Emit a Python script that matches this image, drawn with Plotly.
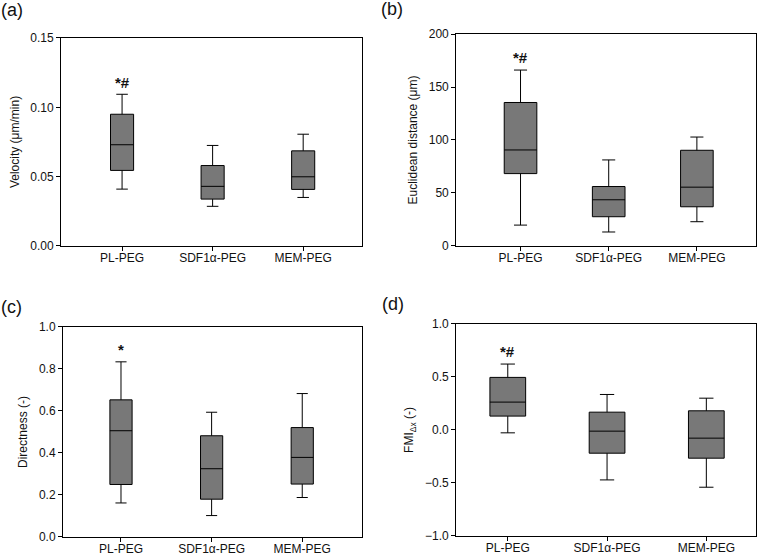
import plotly.graph_objects as go

categories = ["PL-PEG", "SDF1α-PEG", "MEM-PEG"]

# (a) Velocity
vel_low = [0.041, 0.0286, 0.035]
vel_q1 = [0.0545, 0.0338, 0.0408]
vel_med = [0.073, 0.043, 0.0499]
vel_q3 = [0.095, 0.058, 0.0686]
vel_high = [0.1094, 0.0725, 0.0806]

# (b) Euclidean distance
euc_low = [19.7, 13.2, 22.9]
euc_q1 = [68.3, 27.6, 37.0]
euc_med = [90.6, 43.6, 55.5]
euc_q3 = [135.4, 56.1, 90.3]
euc_high = [166.0, 81.2, 102.8]

# (c) Directness
dir_low = [0.162, 0.102, 0.188]
dir_q1 = [0.25, 0.18, 0.252]
dir_med = [0.506, 0.325, 0.379]
dir_q3 = [0.653, 0.482, 0.521]
dir_high = [0.834, 0.594, 0.683]

# (d) FMI
fmi_low = [-0.027, -0.471, -0.54]
fmi_q1 = [0.131, -0.219, -0.266]
fmi_med = [0.263, -0.011, -0.077]
fmi_q3 = [0.496, 0.168, 0.181]
fmi_high = [0.622, 0.335, 0.30]

sig_labels = ["*#", "*#", "*", "*#"]
sig_y = [0.118, 178, 0.895, 0.745]
panel_labels = ["(a)", "(b)", "(c)", "(d)"]
y_titles = ["Velocity (μm/min)", "Euclidean distance (μm)", "Directness (-)", "FMI<sub>Δx</sub> (-)"]

FONT = "Arial, Liberation Sans, sans-serif"
FILL = "#787878"

panels = [
    dict(low=vel_low, q1=vel_q1, med=vel_med, q3=vel_q3, high=vel_high,
         xd=[0.0804, 0.477], yd=[0.5576, 0.9317], xr=[-0.674, 2.65], yr=[0, 0.15],
         dtick=0.05, fmt=".2f", width=0.255, ww=0.5),
    dict(low=euc_low, q1=euc_q1, med=euc_med, q3=euc_q3, high=euc_high,
         xd=[0.601, 0.996], yd=[0.5576, 0.9388], xr=[-0.73, 2.67], yr=[0, 200],
         dtick=50, fmt="d", width=0.37, ww=0.4),
    dict(low=dir_low, q1=dir_q1, med=dir_med, q3=dir_q3, high=dir_high,
         xd=[0.083, 0.477], yd=[0.0342, 0.4119], xr=[-0.64, 2.66], yr=[0, 1.0],
         dtick=0.2, fmt=".1f", width=0.245, ww=0.5),
    dict(low=fmi_low, q1=fmi_q1, med=fmi_med, q3=fmi_q3, high=fmi_high,
         xd=[0.601, 0.996], yd=[0.036, 0.4173], xr=[-0.52, 2.5], yr=[-1.0, 1.0],
         dtick=0.5, fmt=".1f", width=0.36, ww=0.4),
]

fig = go.Figure()
layout = dict(
    width=759, height=556,
    margin=dict(l=0, r=0, t=0, b=0, autoexpand=False),
    paper_bgcolor="white", plot_bgcolor="white",
    showlegend=False,
    font=dict(family=FONT, size=12, color="#111"),
    annotations=[],
)

label_pos = [(-1, 10), (379, 9), (-1, 307), (380, 304)]

for i, p in enumerate(panels):
    n = "" if i == 0 else str(i + 1)
    xa = "x" + n
    ya = "y" + n
    fig.add_trace(go.Box(
        x=categories, q1=p["q1"], median=p["med"], q3=p["q3"],
        lowerfence=p["low"], upperfence=p["high"],
        xaxis=xa, yaxis=ya,
        fillcolor=FILL, line=dict(color="black", width=1),
        width=p["width"], whiskerwidth=p["ww"],
        boxpoints=False, hoverinfo="skip",
    ))
    layout["xaxis" + n] = dict(
        domain=p["xd"], anchor=ya, range=p["xr"], type="category",
        showline=True, mirror=True, linecolor="black", linewidth=1,
        ticks="outside", ticklen=4, tickcolor="black", showgrid=False,
        tickfont=dict(size=12, family=FONT, color="#111"), zeroline=False,
        automargin=False, ticklabelstandoff=-3,
    )
    layout["yaxis" + n] = dict(
        domain=p["yd"], anchor=xa, range=p["yr"], dtick=p["dtick"],
        tickformat=p["fmt"],
        showline=True, mirror=True, linecolor="black", linewidth=1,
        ticks="outside", ticklen=4, tickcolor="black", showgrid=False,
        zeroline=False, automargin=False,
        tickfont=dict(size=12, family=FONT, color="#111"),
        title=dict(text=y_titles[i], font=dict(size=12, family=FONT, color="#111"), standoff=8),
    )
    layout["annotations"].append(dict(
        x=categories[0], y=sig_y[i], xref=xa, yref=ya, text="<b>" + sig_labels[i] + "</b>",
        showarrow=False, font=dict(size=15, family=FONT, color="#111"),
        xanchor="center", yanchor="middle",
    ))
    lx, ly = label_pos[i]
    layout["annotations"].append(dict(
        x=lx / 759, y=1 - ly / 556, xref="paper", yref="paper", text=panel_labels[i],
        showarrow=False, font=dict(size=18, family=FONT, color="#111"),
        xanchor="left", yanchor="middle",
    ))

fig.update_layout(**layout)
fig.write_html(
    "out.html",
    config={"displayModeBar": False},
    post_script="document.body.style.margin='0';document.body.style.overflow='hidden';",
)
